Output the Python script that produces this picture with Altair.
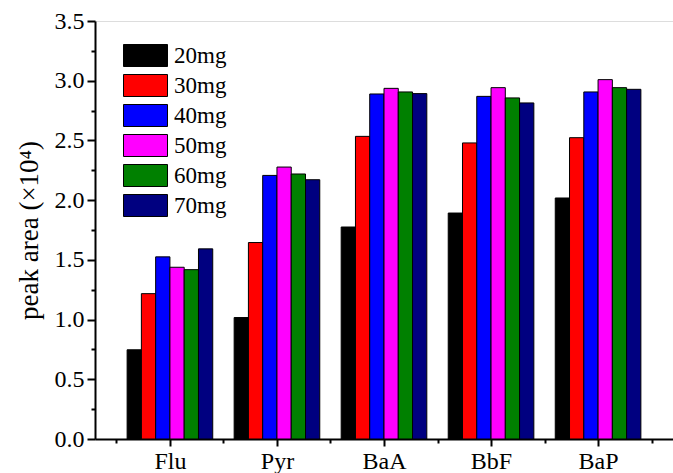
import altair as alt
import pandas as pd

categories = ["Flu", "Pyr", "BaA", "BbF", "BaP"]
series = ["20mg", "30mg", "40mg", "50mg", "60mg", "70mg"]
colors = ["#000000", "#FF0000", "#0000FF", "#FF00FF", "#008000", "#000080"]

v_20mg = [0.747, 1.017, 1.775, 1.892, 2.018]
v_30mg = [1.217, 1.645, 2.534, 2.479, 2.523]
v_40mg = [1.525, 2.207, 2.889, 2.869, 2.906]
v_50mg = [1.438, 2.277, 2.936, 2.942, 3.009]
v_60mg = [1.418, 2.219, 2.906, 2.856, 2.942]
v_70mg = [1.592, 2.171, 2.892, 2.814, 2.928]
values = [v_20mg, v_30mg, v_40mg, v_50mg, v_60mg, v_70mg]

rows = []
for si, (s, vals) in enumerate(zip(series, values)):
    for ci, (c, v) in enumerate(zip(categories, vals)):
        rows.append({"category": c, "cat_index": ci + 1, "series": s,
                     "series_index": si, "value": v})
df = pd.DataFrame(rows)

n_series = len(series)
group_w = 0.8
bar_w = group_w / n_series

font = "Liberation Serif"
cat_expr = "[" + ",".join("'%s'" % c for c in categories) + "]"
x_ticks = [i * 0.5 for i in range(1, 2 * len(categories) + 2)]
y_ticks = [i * 0.25 for i in range(0, 15)]

bars = alt.Chart(df).transform_calculate(
    x0=f"datum.cat_index - {group_w / 2} + datum.series_index * {bar_w}",
    x1=f"datum.cat_index - {group_w / 2} + (datum.series_index + 1) * {bar_w}",
).mark_rect(stroke="black", strokeWidth=1).encode(
    x=alt.X("x0:Q", scale=alt.Scale(domain=[0.3, 5.7], nice=False, zero=False),
            axis=alt.Axis(
                values=x_ticks, title=None, grid=False,
                labelExpr=f"datum.value % 1 == 0 ? {cat_expr}[datum.value - 1] : ''",
                tickSize={"condition": {"test": "datum.value % 1 == 0", "value": 7}, "value": 4},
                labelFont=font, labelFontSize=24, labelColor="black",
                labelPadding=3, labelFlush=False, labelOverlap=False,
                domainColor="black", domainWidth=2, tickColor="black", tickWidth=2,
            )),
    x2="x1:Q",
    y=alt.Y("value:Q", scale=alt.Scale(domain=[0, 3.5], nice=False),
            axis=alt.Axis(
                values=y_ticks, title="peak area (×10⁴)", grid=False,
                labelExpr="(datum.value * 2) % 1 == 0 ? format(datum.value, '.1f') : ''",
                tickSize={"condition": {"test": "(datum.value * 2) % 1 == 0", "value": 8}, "value": 4},
                labelFont=font, labelFontSize=24, labelColor="black",
                labelPadding=3, labelFlush=False, labelOverlap=False,
                titleFont=font, titleFontSize=27, titleFontWeight="normal",
                titleColor="black", titlePadding=11,
                domainColor="black", domainWidth=2, tickColor="black", tickWidth=2,
            )),
    y2=alt.datum(0),
    color=alt.Color("series:N", scale=alt.Scale(domain=series, range=colors),
                    legend=alt.Legend(
                        title=None, orient="none", legendX=39, legendY=23,
                        symbolType="M-2,-1H2V1H-2Z", symbolSize=484,
                        symbolStrokeColor="black", symbolStrokeWidth=1,
                        symbolOpacity=1,
                        labelFont=font, labelFontSize=23, labelColor="black",
                        labelOffset=17, rowPadding=3, padding=0,
                    )),
)

chart = bars.properties(
    width=578, height=418,
    autosize=alt.AutoSizeParams(type="none"),
    padding={"left": 95, "top": 21, "right": 0, "bottom": 34},
).configure_view(stroke=None).configure(background="white")

chart.save("out.html", embed_options={"renderer": "svg", "actions": False})
